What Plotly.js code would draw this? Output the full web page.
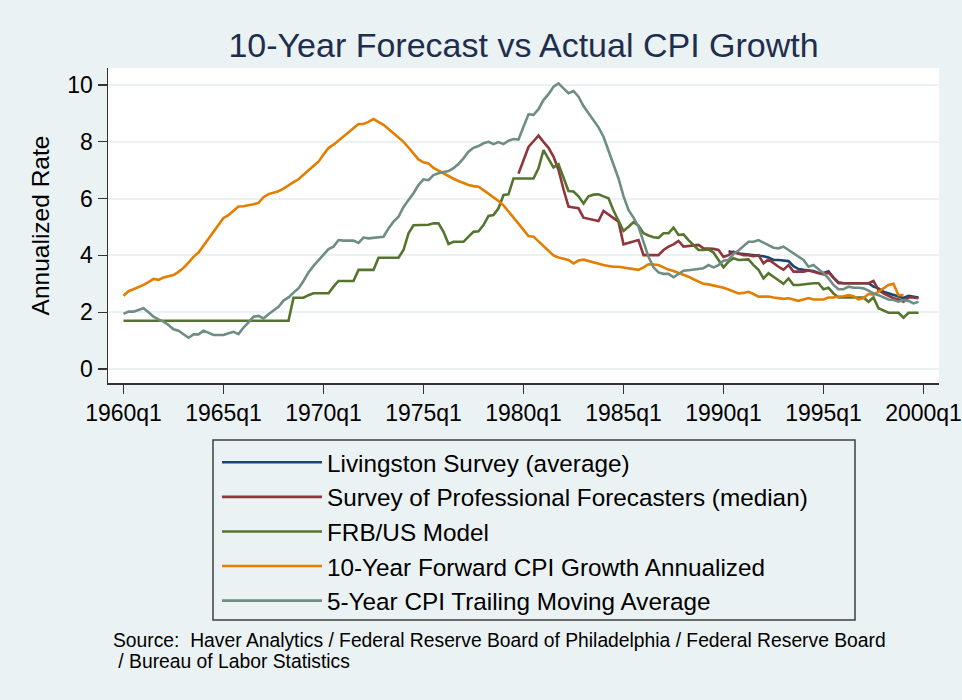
<!DOCTYPE html>
<html>
<head>
<meta charset="utf-8">
<script src="https://cdn.plot.ly/plotly-3.0.1.min.js"></script>
<style>
  html, body { margin: 0; padding: 0; background: #eaf2f3; }
  #chart { width: 962px; height: 700px; }
</style>
</head>
<body>
<div id="chart"></div>
<script>
// ---------------- DATA ----------------
const seriesNames = [
  "Livingston Survey (average)",
  "Survey of Professional Forecasters (median)",
  "FRB/US Model",
  "10-Year Forward CPI Growth Annualized",
  "5-Year CPI Trailing Moving Average"
];
const tickYears  = [1960, 1965, 1970, 1975, 1980, 1985, 1990, 1995, 2000];
const tickLabels = ["1960q1","1965q1","1970q1","1975q1","1980q1","1985q1","1990q1","1995q1","2000q1"];
const yTicks = [0, 2, 4, 6, 8, 10];

// first quarter of each series
const livingstonStart = "1990q2";
const spfStart        = "1979q4";
const frbStart        = "1960q1";
const forwardStart    = "1960q1";
const trailingStart   = "1960q1";

const livingston = [4.15,4.10,4.07,4.05,4.03,4.01,4.01,3.97,3.93,3.84,3.84,3.82,3.80,3.62,3.52,3.49,3.48,3.45,3.38,3.38,
  3.44,3.22,3.05,3.02,3.02,3.02,3.02,3.02,3.02,2.90,2.84,2.72,2.66,2.60,2.55,2.50,2.58,2.56,2.52];

const spf = [6.88,7.35,7.82,8.02,8.22,8.00,7.79,7.48,7.01,6.33,5.72,5.69,5.66,5.33,5.29,5.25,5.21,5.57,5.44,5.30,
  5.19,4.39,4.44,4.49,4.54,4.01,4.01,4.01,4.01,4.19,4.31,4.39,4.51,4.31,4.33,4.33,4.37,4.25,4.25,4.23,
  4.19,3.95,4.01,4.13,4.07,4.01,4.01,3.97,4.01,3.72,3.86,3.72,3.60,3.50,3.66,3.43,3.43,3.43,3.47,3.43,
  3.37,3.33,3.40,3.19,3.02,3.02,3.02,3.02,3.02,3.02,3.02,3.10,2.78,2.66,2.57,2.49,2.45,2.37,2.52,2.52,2.49];

const frbus = [1.70,1.70,1.70,1.70,1.70,1.70,1.70,1.70,1.70,1.70,1.70,1.70,1.70,1.70,1.70,1.70,1.70,1.70,1.70,1.70,
  1.70,1.70,1.70,1.70,1.70,1.70,1.70,1.70,1.70,1.70,1.70,1.70,1.70,1.70,2.51,2.51,2.51,2.60,2.67,2.67,
  2.67,2.67,2.90,3.10,3.10,3.10,3.10,3.49,3.49,3.49,3.49,3.92,3.92,3.92,3.92,3.92,4.19,4.78,5.06,5.06,
  5.06,5.08,5.13,5.13,4.83,4.40,4.48,4.48,4.48,4.66,4.83,4.85,5.07,5.39,5.42,5.66,6.13,6.15,6.71,6.71,
  6.71,6.71,6.71,7.07,7.71,7.40,7.10,7.21,6.71,6.27,6.25,6.08,5.83,6.08,6.14,6.15,6.08,6.01,5.58,5.22,
  4.86,5.01,5.17,5.05,4.78,4.70,4.64,4.62,4.78,4.78,4.98,4.72,4.74,4.54,4.37,4.19,4.19,4.21,4.10,3.84,
  3.58,3.78,3.90,3.84,3.84,3.86,3.66,3.49,3.19,3.37,3.25,3.12,3.00,3.19,2.96,2.96,2.98,3.02,3.02,3.02,
  2.81,2.86,2.66,2.52,2.52,2.52,2.52,2.52,2.52,2.37,2.52,2.14,2.05,1.98,1.98,1.98,1.81,1.98,1.98,1.98];

const forward = [2.58,2.74,2.81,2.88,2.96,3.06,3.17,3.14,3.22,3.27,3.31,3.42,3.56,3.75,3.95,4.10,4.35,4.60,4.85,5.10,
  5.32,5.42,5.58,5.72,5.73,5.76,5.80,5.85,6.05,6.16,6.22,6.26,6.35,6.48,6.58,6.68,6.85,7.00,7.15,7.30,
  7.55,7.78,7.90,8.05,8.20,8.35,8.50,8.63,8.63,8.70,8.80,8.70,8.60,8.45,8.30,8.18,8.00,7.80,7.60,7.38,
  7.28,7.24,7.08,6.98,6.88,6.78,6.70,6.62,6.55,6.48,6.44,6.42,6.30,6.18,6.05,5.92,5.76,5.56,5.36,5.12,
  4.90,4.68,4.66,4.50,4.32,4.15,4.00,3.93,3.88,3.84,3.72,3.82,3.85,3.80,3.76,3.72,3.66,3.63,3.60,3.60,
  3.57,3.56,3.52,3.49,3.58,3.69,3.68,3.66,3.58,3.50,3.45,3.38,3.33,3.25,3.16,3.08,3.00,2.98,2.94,2.92,
  2.86,2.80,2.72,2.66,2.68,2.72,2.64,2.55,2.55,2.55,2.52,2.49,2.47,2.49,2.45,2.40,2.45,2.50,2.45,2.44,
  2.45,2.52,2.52,2.55,2.56,2.60,2.56,2.45,2.50,2.64,2.62,2.72,2.84,2.96,3.00,2.60,2.60];

const trailing = [1.94,2.02,2.02,2.08,2.14,2.00,1.84,1.75,1.67,1.55,1.40,1.35,1.23,1.10,1.22,1.22,1.35,1.28,1.20,1.20,
  1.20,1.26,1.31,1.23,1.46,1.64,1.84,1.87,1.78,1.93,2.05,2.19,2.41,2.52,2.69,2.84,3.10,3.40,3.63,3.84,
  4.05,4.22,4.31,4.54,4.52,4.52,4.52,4.44,4.63,4.60,4.62,4.64,4.66,4.95,5.19,5.36,5.71,5.95,6.19,6.48,
  6.68,6.65,6.83,6.89,6.93,6.97,7.07,7.22,7.42,7.65,7.79,7.85,7.95,8.00,7.92,7.99,7.92,8.04,8.10,8.08,
  8.53,8.97,8.95,9.15,9.47,9.68,9.94,10.06,9.88,9.71,9.79,9.59,9.26,9.00,8.74,8.51,8.18,7.71,7.18,6.71,
  6.09,5.60,5.33,5.01,4.48,3.95,3.58,3.40,3.35,3.35,3.23,3.35,3.46,3.48,3.51,3.53,3.55,3.66,3.58,3.66,
  3.81,3.84,4.05,4.17,4.31,4.48,4.48,4.54,4.45,4.37,4.27,4.25,4.31,4.19,4.07,3.95,3.84,3.60,3.66,3.51,
  3.37,3.19,2.96,2.81,2.81,2.90,2.86,2.86,2.84,2.76,2.66,2.60,2.52,2.45,2.43,2.37,2.43,2.40,2.31,2.37];

const sourceLines = [
  "Source:\u00a0\u00a0Haver Analytics / Federal Reserve Board of Philadelphia / Federal Reserve Board",
  "\u00a0/ Bureau of Labor Statistics"
];

// ---------------- STYLE ----------------
const colors = ["#1a476f", "#90353b", "#55752f", "#e37e00", "#6e8e84"];
const bg = "#eaf2f3";
const FONT = "Liberation Sans, Arial, Helvetica, sans-serif";

// quarter label -> decimal year position on the time axis
function qPos(label, offset) {
  const y = parseInt(label.slice(0, 4), 10);
  const q = parseInt(label.slice(5), 10);
  return y + (q - 1 + offset) / 4;
}
function xs(startLabel, n) {
  const out = [];
  for (let i = 0; i < n; i++) out.push(qPos(startLabel, i));
  return out;
}

const seriesData = [
  [livingstonStart, livingston],
  [spfStart, spf],
  [frbStart, frbus],
  [forwardStart, forward],
  [trailingStart, trailing]
];

const traces = seriesData.map((s, i) => ({
  type: "scatter",
  mode: "lines",
  name: seriesNames[i],
  x: xs(s[0], s[1].length),
  y: s[1],
  line: { color: colors[i], width: 2.6 },
  legendgroup: "g" + i,
  hoverinfo: "x+y+name"
}));

// pixel helpers for layout-only items (paper coords)
const L = 108, R = 23, T = 68, B = 317, W = 962, H = 700;
const pw = W - L - R, ph = H - T - B;
const px = (p) => (p - L) / pw;
const py = (p) => (H - B - p) / ph;

const layout = {
  width: W, height: H,
  margin: { l: L, r: R, t: T, b: B, pad: 0 },
  paper_bgcolor: bg,
  plot_bgcolor: "#ffffff",
  font: { family: FONT, color: "#000000" },
  title: {
    text: "10-Year Forecast vs Actual CPI Growth",
    font: { family: FONT, size: 34, color: "#1f2d4e" },
    x: 0.5, xref: "paper", xanchor: "center",
    y: 1 - 45 / H, yref: "container", yanchor: "middle"
  },
  xaxis: {
    range: [1959.225, 2000.775],
    tickmode: "array", tickvals: tickYears, ticktext: tickLabels,
    ticks: "outside", ticklen: 9, tickwidth: 1.3, tickcolor: "#333333",
    showline: true, linecolor: "#333333", linewidth: 1.5,
    showgrid: false, zeroline: false,
    tickfont: { family: FONT, size: 23, color: "#000000" },
    fixedrange: true
  },
  yaxis: {
    range: [-0.493, 10.6],
    tickmode: "array", tickvals: yTicks,
    ticks: "outside", ticklen: 9, tickwidth: 1.3, tickcolor: "#333333",
    showline: true, linecolor: "#333333", linewidth: 1.5,
    showgrid: true, gridcolor: bg, gridwidth: 2, zeroline: false,
    tickfont: { family: FONT, size: 23, color: "#000000" },
    title: { text: "Annualized Rate", font: { family: FONT, size: 24.5, color: "#000000" }, standoff: 10 },
    fixedrange: true
  },
  showlegend: true,
  legend: {
    x: px(217), y: py(440), xanchor: "left", yanchor: "top",
    bgcolor: "rgba(0,0,0,0)", borderwidth: 0,
    font: { family: FONT, size: 24.3, color: "#000000" },
    itemwidth: 100, traceorder: "grouped", tracegroupgap: 0
  },
  shapes: [
    { type: "rect", xref: "paper", yref: "paper", layer: "below",
      x0: px(213), x1: px(855), y0: py(620), y1: py(440),
      line: { color: "#404040", width: 1.5 }, fillcolor: bg }
  ],
  annotations: [
    { xref: "paper", yref: "paper", x: px(111), y: py(640), xanchor: "left", yanchor: "middle",
      align: "left", showarrow: false, text: sourceLines[0],
      font: { family: FONT, size: 19.3, color: "#000000" } },
    { xref: "paper", yref: "paper", x: px(111), y: py(661), xanchor: "left", yanchor: "middle",
      align: "left", showarrow: false, text: sourceLines[1],
      font: { family: FONT, size: 19.3, color: "#000000" } }
  ]
};

Plotly.newPlot("chart", traces, layout, { displayModeBar: false, staticPlot: true });
</script>
</body>
</html>
